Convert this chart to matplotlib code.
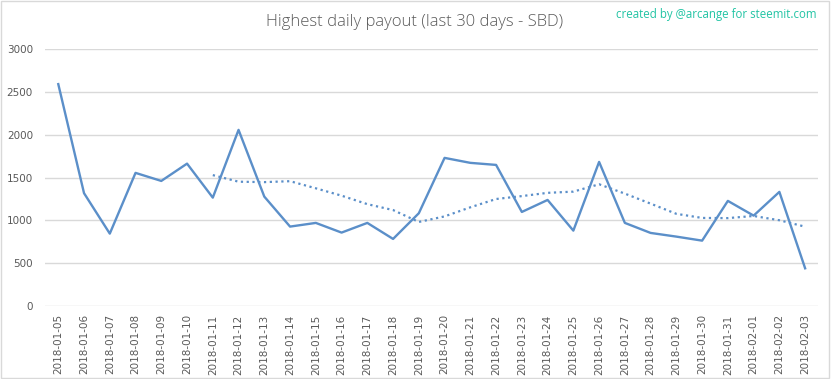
import matplotlib.pyplot as plt
from matplotlib.patches import Rectangle

# Data
dates = ['2018-01-05', '2018-01-06', '2018-01-07', '2018-01-08', '2018-01-09',
         '2018-01-10', '2018-01-11', '2018-01-12', '2018-01-13', '2018-01-14',
         '2018-01-15', '2018-01-16', '2018-01-17', '2018-01-18', '2018-01-19',
         '2018-01-20', '2018-01-21', '2018-01-22', '2018-01-23', '2018-01-24',
         '2018-01-25', '2018-01-26', '2018-01-27', '2018-01-28', '2018-01-29',
         '2018-01-30', '2018-01-31', '2018-02-01', '2018-02-02', '2018-02-03']
payout = [2590, 1317, 845, 1554, 1460, 1662, 1265, 2056, 1277, 927,
          970, 857, 970, 783, 1083, 1729, 1671, 1647, 1098, 1238,
          880, 1682, 970, 853, 810, 763, 1227, 1055, 1332, 440]

# 7-day trend (dotted), starts at 2018-01-11
trend_start = 6
trend = [1528, 1451, 1446, 1457, 1374, 1288, 1189, 1120, 981, 1046,
         1152, 1249, 1283, 1321, 1335, 1421, 1312, 1195, 1076, 1028,
         1026, 1051, 1001, 926]

line_color = '#5B8FC9'
text_gray = '#595959'

fig = plt.figure(figsize=(8.33, 3.79), dpi=100)
ax = fig.add_axes([0.0545, 0.1926, 0.9275, 0.6781])

x = list(range(len(dates)))
ax.plot(x, payout, color=line_color, linewidth=1.7, solid_joinstyle='round')
ax.plot(x[trend_start:], trend, color=line_color, linewidth=1.6,
        linestyle=(0, (1, 1.6)))

ax.set_xlim(-0.5, len(dates) - 0.5)
ax.set_ylim(0, 3000)
ax.set_yticks(range(0, 3001, 500))
ax.set_xticks(x)
ax.set_xticklabels(dates, rotation=90)
ax.grid(axis='y', color='#D9D9D9', linewidth=1)
ax.set_axisbelow(True)
for side in ['top', 'right', 'left', 'bottom']:
    ax.spines[side].set_visible(False)
ax.tick_params(axis='both', length=0, labelsize=7.5, labelcolor=text_gray)
ax.tick_params(axis='y', pad=9)
ax.tick_params(axis='x', pad=6)

fig.text(0.4975, 0.941, 'Highest daily payout (last 30 days - SBD)',
         ha='center', va='center', fontsize=12, color=text_gray,
         family='Open Sans', fontweight='light')
fig.text(0.98, 0.962, 'created by @arcange for steemit.com',
         ha='right', va='center', fontsize=8.3, color='#22C4A4',
         family='Open Sans')

# light border around the chart
fig.patches.append(Rectangle((0.001, 0.003), 0.994, 0.994, transform=fig.transFigure,
                             fill=False, edgecolor='#D9D9D9', linewidth=1))

fig.savefig('out.png', dpi=100)
